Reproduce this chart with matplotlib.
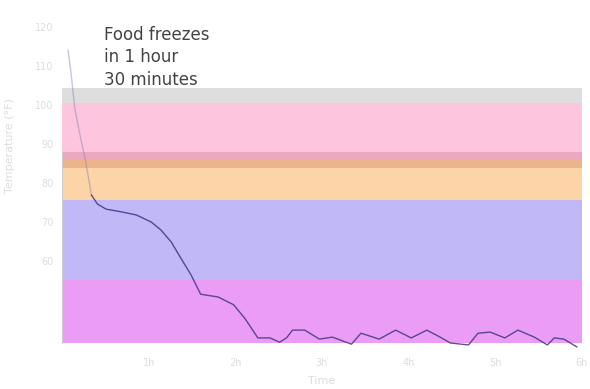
import matplotlib
matplotlib.use("Agg")
import matplotlib.pyplot as plt

# time (hours) and temperature readings
hours = [0.07, 0.10, 0.15, 0.22, 0.27, 0.34, 0.41, 0.51, 0.69, 0.86, 1.03, 1.14,
         1.26, 1.37, 1.49, 1.60, 1.80, 1.98, 2.11, 2.26, 2.40, 2.51, 2.59, 2.66,
         2.80, 2.97, 3.12, 3.34, 3.45, 3.66, 3.85, 4.03, 4.21, 4.38, 4.48, 4.69,
         4.80, 4.94, 5.11, 5.26, 5.45, 5.60, 5.68, 5.79, 5.94]
temps = [114.0, 109.0, 98.7, 91.0, 85.9, 76.9, 74.6, 73.3, 72.6, 71.8, 70.0, 68.0,
         64.9, 60.8, 56.4, 51.5, 50.8, 48.8, 45.3, 40.3, 40.3, 39.2, 40.3, 42.3,
         42.3, 40.0, 40.5, 38.7, 41.5, 40.0, 42.3, 40.3, 42.3, 40.3, 39.0, 38.5,
         41.5, 41.8, 40.3, 42.3, 40.5, 38.5, 40.3, 40.0, 38.0]

# temperature zones (bottom, top, colour)
zone_low = [100.5, 87.9, 85.9, 83.8, 75.6, 55.1, 39.0]
zone_high = [104.4, 100.5, 87.9, 85.9, 83.8, 75.6, 55.1]
zone_colors = ['#dedede', '#fdc6de', '#eca8bf', '#ebb48b', '#fdd4a7', '#c0b8f7', '#eb9df6']

yticks = [60, 70, 80, 90, 100, 110, 120]
xticks = [1, 2, 3, 4, 5, 6]
xtick_labels = ['1h', '2h', '3h', '4h', '5h', '6h']

fig = plt.figure(figsize=(5.9, 3.89), dpi=100)
ax = fig.add_axes([62 / 590, (389 - 350) / 389, 520 / 590, 330 / 389])

for lo, hi, c in zip(zone_low, zone_high, zone_colors):
    ax.axhspan(lo, hi, color=c, lw=0, zorder=1)

# steep cooling at the start is drawn fainter, the rest solid
ax.plot(hours[:6], temps[:6], color='#8a7fb0', lw=1, alpha=0.45, zorder=3)
ax.plot(hours[5:], temps[5:], color='#3f3585', lw=1, alpha=0.85, zorder=3, clip_on=False)

ax.text(0.49, 120.2, 'Food freezes\nin 1 hour\n30 minutes', ha='left', va='top',
        fontsize=12, color='#444444', linespacing=1.3, zorder=4)

ax.set_xlim(0, 6)
ax.set_ylim(37.2, 121.8)
ax.set_xticks(xticks)
ax.set_xticklabels(xtick_labels)
ax.set_yticks(yticks)
ax.tick_params(length=0, labelsize=7, colors='#dddddd', pad=6)

for side in ['top', 'right', 'bottom']:
    ax.spines[side].set_visible(False)
ax.spines['left'].set_color('#cccccc')
ax.spines['left'].set_bounds(39.0, 88)

ax.set_xlabel('Time', fontsize=8, color='#dddddd')
ax.xaxis.set_label_coords(0.5, -0.08)
ax.set_ylabel('Temperature (°F)', fontsize=8, color='#dddddd')
ax.yaxis.set_label_coords(-0.09, 0.62)

fig.savefig('out.png', dpi=100)
